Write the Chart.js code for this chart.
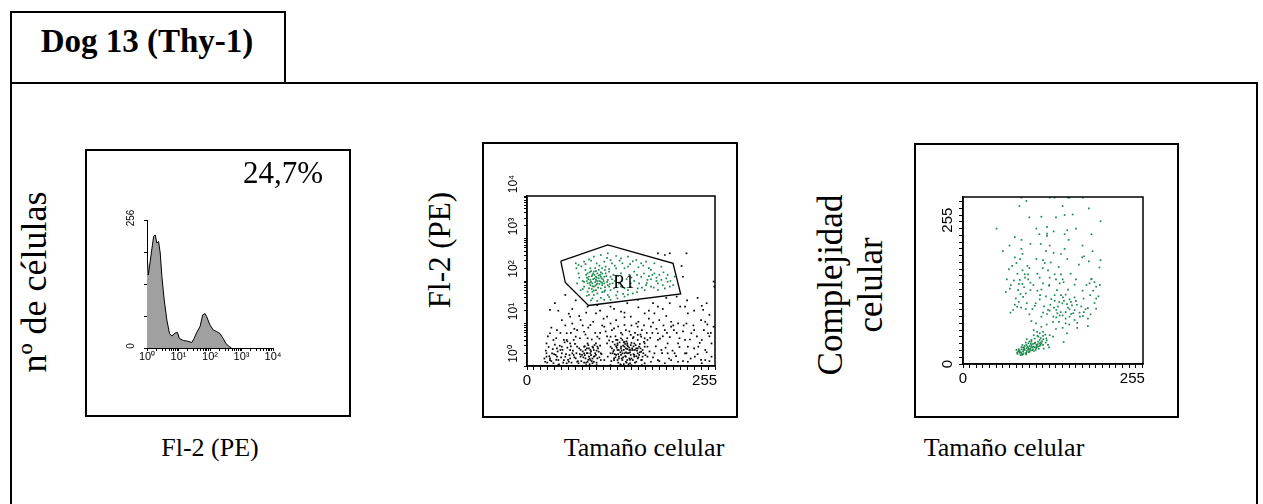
<!DOCTYPE html>
<html>
<head>
<meta charset="utf-8">
<title>Dog 13 (Thy-1)</title>
<script src="https://cdn.jsdelivr.net/npm/chart.js@4.4.1/dist/chart.umd.min.js"></script>
<style>
  body { margin:0; background:#fff; width:1263px; height:504px; overflow:hidden; position:relative; }
  .box { position:absolute; border:2px solid #000; box-sizing:border-box; background:#fff; }
  .box canvas { position:absolute; left:0; top:0; }
  .t { position:absolute; font-family:'Liberation Serif','Times New Roman',serif; line-height:1; white-space:nowrap; color:#000; }
  .h { transform:translateX(-50%); }
  .v { transform:translate(-50%,-50%) rotate(-90deg); }
</style>
</head>
<body>

<div class="box" style="left:10px;top:82px;width:1248px;height:440px"></div>
<div class="box" style="left:10px;top:11px;width:276px;height:73px"></div>
<div class="t h" style="left:147px;top:25px;font-size:33px;font-weight:bold">Dog 13 (Thy-1)</div>

<div class="box" style="left:85px;top:149px;width:266px;height:268px"><canvas id="histo" width="262" height="264"></canvas></div>
<div class="box" style="left:482px;top:142px;width:256px;height:276px"><canvas id="gate" width="252" height="272"></canvas></div>
<div class="box" style="left:914px;top:143px;width:265px;height:275px"><canvas id="ssc" width="261" height="271"></canvas></div>

<div class="t h" style="left:283px;top:157px;font-size:31px">24,7%</div>

<div class="t v" style="left:34px;top:282px;font-size:36px">nº de células</div>
<div class="t v" style="left:439px;top:250px;font-size:31px">Fl-2 (PE)</div>
<div class="t v" style="left:830px;top:285px;font-size:35px">Complejidad</div>
<div class="t v" style="left:870px;top:285px;font-size:35px">celular</div>

<div class="t h" style="left:210px;top:435px;font-size:26px">Fl-2 (PE)</div>
<div class="t h" style="left:644px;top:435px;font-size:26px">Tamaño celular</div>
<div class="t h" style="left:1004px;top:435px;font-size:26px">Tamaño celular</div>

<script>
// histogram, Fl-2 (PE) on log axis
const histFL2    = [1, 1.1, 1.62, 1.83, 2.06, 2.33, 2.63, 2.97, 3.52, 4.27, 5.18, 6.14, 7.83, 9.27, 10.7, 14.3,
                    18.3, 26.3, 31.2, 37.8, 48.2, 58.5, 69.3, 78.3, 99.8, 127, 162, 206, 263, 319, 406, 482];
const histCounts = [189, 146, 223, 226, 210, 213, 190, 143, 96, 56, 29, 24, 30, 31, 19, 15,
                    14, 11, 19, 31, 43, 66, 69, 63, 46, 36, 33, 29, 19, 9, 3, 0];
const histXTickValues = [1, 10, 100, 1000, 10000];
const histXTickLabels = ['10⁰', '10¹', '10²', '10³', '10⁴'];
const histYTickValues = [0, 256];
const histYTickLabels = ['0', '256'];

// R1 gate (tamaño, Fl-2)
const gateSize = [48.5, 116, 209.7, 220.7, 88.4, 55];
const gateFL2  = [295, 707, 261, 49.4, 26.5, 92];
const gateName = 'R1';
const gateNameAt = [139, 88];

const dotsInGate = [
  [70,261],[74,238],[82,285],[89,323],[96,374],[106,409],[116,448],[128,387],[135,341],[145,374],[157,312],[164,261],
  [171,285],[183,261],[193,217],[202,138],[212,126],[210,80],[198,67],[188,61],[178,74],[169,61],[159,67],[152,51],
  [140,43],[130,39],[120,36],[111,36],[101,34],[94,39],[77,61],[72,88],[74,151],[71,199],[145,217],[154,166],
  [164,126],[173,106],[183,151],[193,106],[202,96],[149,88],[161,88],[171,80],[135,151],[128,199],[120,312],[111,285],
  [137,261],[178,182],[188,88],[205,74],
  [84,182],[87,151],[89,126],[91,106],[94,88],[96,74],[99,61],[101,51],[103,116],[106,96],[108,80],[111,126],
  [113,151],[116,106],[118,74],[120,61],[101,151],[96,166],[91,199],[87,88],[89,67],[94,56],[99,106],[106,67],
  [111,56],[116,47],[103,182],[108,199],[113,217],[118,166],[120,126],[123,88],[125,67],[130,56],[132,88],[135,74],
  [140,67],[145,61],[149,74],[94,138],[99,126],[101,88],[106,126],[111,88],[116,80],[91,80],[96,47],[87,56],
  [82,74],[89,47],[95,110],[98,95],[100,120],[93,130],[97,140],[104,100],[102,70],[92,95],[88,110],[105,140],
  [110,100],[100,82],[96,60],[108,150],[112,72],[90,160],[86,120],[99,170],[107,115],[94,75],
  [75,120],[78,220],[80,100],[84,250],[92,300],[100,260],[104,230],[115,350],[122,260],[126,230],[133,300],[140,200],
  [148,250],[152,290],[160,210],[167,230],[175,200],[180,140],[186,120],[196,160],[200,115],[206,100],[195,80],[182,70],
  [175,130],[168,150],[158,140],[150,120],[143,110],[136,100],[128,120],[124,140],[118,190],[112,180],[106,160],[98,200],
  [92,170],[85,140],[82,95],[80,65],[86,45],[92,35],[106,40],[118,42],[128,46],[138,50],[145,48],[158,55],
  [165,70],[172,90],[186,100],[190,140],[178,110],[154,100],[147,140],[131,130],[122,110],[114,130],[109,110],[104,85],
  [98,78],[93,65],[90,90],[86,100],[97,115],[101,100],[95,150],[103,135],[108,90],[115,95],[119,85],[126,100],
  [112,60],[108,55]
];

const dotsOutGate = [
  [188,448],[198,409],[205,448],[229,448],[222,225],[224,126],[215,43],[268,97],[269,74],[251,26],[253,21],[227,25],
  [188,25],[181,30],[159,36],[144,30],[120,25],[101,27],[87,25],[55,47],[33,21],[62,14.5],[77,12.1],[99,17.3],
  [115,14.5],[135,19],[149,14.5],[169,17.3],[183,17.3],[207,11],[217,10.1],[231,17.3],[256,11],[268,8.4],[260,5.9],
  [251,4.1],[236,5.9],[227,4.1],[207,8.4],[198,7],[188,5.9],[178,8.4],[159,8.4],[140,9.2],[125,7.7],[111,8.4],
  [91,9.2],[82,6.4],[72,7],[57,5.9],[43,7],[33,5.9],[38,4.1],[28,3.4],[53,4.1],[67,4.1],[87,4.5],[101,4.9],
  [120,4.9],[135,4.5],[149,5.4],[164,4.9],[173,4.1],[188,4.1],[202,3.4],[217,3.4],[231,2.85],[246,2.85],[256,2.38],
  [265,3.4],[265,1.66],[256,1.38],[241,1.66],[227,1.99],[212,1.99],[202,1.99],[193,2.38],[183,1.99],[173,1.66],
  [169,2.85],[159,2.6],[144,3.1],[130,3.4],[115,3.4],[101,2.85],[87,3.4],[72,2.85],[62,2.38],[48,2.38],[36,1.99],
  [28,1.66],[26,1.26],[33,1.38],[43,1.66],[53,1.38],[62,1.51],[72,1.26],[82,1.99],[91,2.38],[96,1.66],[106,1.99],
  [111,1.38],[120,1.99],[125,1.51],[130,2.38],[135,2.85],[140,1.99],[144,1.38],[149,2.38],[154,1.66],[159,1.99],
  [164,1.38],[169,1.16],[178,1.26],[188,1.38],[198,1.16],[207,1.38],[217,1.26],[231,1.26],[251,1.16],[45,1.06],
  [57,1.16],[67,1.82],[77,2.38],
  [82,2.85],[84,2.38],[87,1.99],[89,1.66],[91,1.38],[94,2.85],[96,2.38],[99,1.82],[101,1.51],[87,1.26],[91,1.99],
  [84,1.51],[96,1.26],[103,2.17],[79,1.82],[89,2.6],[94,1.16],[82,1.2],[99,3.4],[106,1.38],
  [120,2.85],[123,1.99],[125,1.38],[128,4.1],[130,3.1],[132,2.38],[135,1.82],[137,1.38],[140,3.7],[142,2.6],
  [144,1.99],[147,1.51],[149,3.1],[152,2.38],[154,1.82],[157,1.26],[159,4.1],[161,2.85],[164,2.17],[166,1.66],
  [132,1.66],[137,1.99],[142,1.66],[147,2.38],[152,1.38],[140,2.85],[144,3.4],[135,2.6],[130,1.38],[125,2.38],
  [154,3.4],[159,1.51],[149,1.82],[137,4.1],[142,1.26],[157,2.6],[161,1.82],[169,3.4],[128,1.82],[116,1.66],
  [144,4.5],[152,4.5],[159,5.4],[169,4.5],[166,2.38],[173,2.85],[130,4.1],[123,3.7],[139,1.11],[148,1.16],
  [28,1.99],[33,1.51],[38,1.16],[41,1.82],[45,1.38],[50,1.99],[55,1.66],[60,1.26],[65,1.99],[70,1.51],[74,1.16],
  [77,1.66],[62,3.4],[50,2.85],[43,2.6],[70,4.9],[57,4.1],
  [120,10],[128,12],[140,14],[150,9],[160,11],[175,13],[190,12],[200,15],[210,9],[110,13],[95,11],[80,9],[65,10],
  [50,12],[45,20],[60,17],[75,15],[105,6],[115,5],[135,6],[155,6],[165,7],[180,6],[195,5],[215,6],[225,9],[240,7],
  [250,12],[262,5],[85,1.05],[100,1.05],[120,1.05],[135,1.05],[150,1.05],[165,1.05],
  [121,1.3],[124,2.2],[126,3.2],[127,1.6],[129,2.7],[131,1.2],[133,3.6],[134,2.1],[136,1.5],[138,3.0],[139,2.4],
  [141,1.7],[143,3.8],[143,1.2],[145,2.9],[146,2.0],[148,1.4],[150,3.5],[151,2.6],[153,1.9],[155,1.2],[156,3.1],
  [158,2.3],[160,1.6],[162,3.3],[163,2.6],[165,1.4],[167,2.0],[168,3.7],[170,1.8],[134,1.1],[146,1.1],[122,2.6],
  [128,2.9],[131,1.9],[136,2.3],[141,3.3],[147,2.7],[150,1.5],[153,2.9],[157,1.7],[162,2.1],[138,1.6],[142,2.1],
  [126,1.9],[132,1.5],[144,2.5],[148,2.1],[155,2.4],[139,3.6],
  [78,1.3],[80,2.2],[81,1.6],[83,2.9],[85,1.2],[86,2.0],[88,3.1],[90,1.5],[92,2.2],[93,1.3],[95,2.7],[97,1.7],
  [98,2.0],[100,1.2],[102,2.6],[104,1.6],[105,3.0],[107,1.9],[83,1.8],[86,2.6],[90,1.1],[92,1.8],[97,3.1],[100,2.3],
  [94,1.5],[88,1.4],
  [25,1.5],[27,2.3],[29,1.2],[31,2.8],[32,1.7],[35,1.3],[37,2.5],[39,1.9],[40,3.2],[42,1.4],[44,2.2],[46,1.1],
  [47,3.0],[49,1.6],[51,2.4],[52,1.2],[54,3.6],[56,1.9],[58,2.7],[59,1.4],[61,1.8],[63,2.9],[64,1.2],[66,2.3],
  [68,1.6],[69,3.3],[71,2.0],[73,1.3],[75,2.6],[76,1.9],
  [30,5],[35,8],[42,4.5],[48,6],[55,9],[58,3.8],[63,6],[68,7.5],[76,4.5],[84,5.5],[88,8],[93,4.2],[98,6],[104,4.4],
  [108,9],[113,6.5],[118,4],[122,7],[127,5],[131,8.5],[137,5.5],[142,7],[147,6.5],[153,4.8],[157,10],[163,5.5],
  [168,9],[172,6],[177,4.6],[181,10.5],[186,7.5],[191,4.4],[196,9],[201,6],[205,4.8],[211,7],[219,4.5],[224,6.5],
  [229,10],[234,4.2],[239,9],[244,5],[248,3.5],[254,7],[259,9.5],[264,6],
  [176,2.2],[181,1.6],[185,2.9],[190,1.3],[194,2.0],[199,2.7],[204,1.5],[209,2.3],[214,1.7],[219,2.8],[224,1.3],
  [229,2.0],[235,1.5],[240,2.6],[245,1.9],[250,1.4],[258,2.1],[262,1.3],
  [40,30],[65,22],[70,35],[85,18],[105,20],[125,22],[140,18],[160,24],[175,20],[195,22],[205,30],[220,25],[240,20],
  [262,16],[230,35],[245,40],[258,30],[200,40]
];
const gateYTickValues = [1, 10, 100, 1000, 10000];
const gateYTickLabels = ['10⁰', '10¹', '10²', '10³', '10⁴'];
const sizeTickValues = [0, 255];
const sizeTickLabels = ['0', '255'];

// tamaño vs complejidad, gated on R1
const dotsSSC = [
  [88,295],[95.5,289],[130.5,295],[138,295],[158,295],[160.5,295],[180.5,295],[189.5,276],[153,264],[118,261],
  [207,253],[50.5,240],[110.5,240],[126.5,243],[136.5,235],[126.5,231],[153,230],[157,237],[193.5,230],[78,225],
  [88,220],[126.5,227],[101.5,213],[117,213],[130.5,210],[159,220],[153,204],[88,204],[89.5,195],[136.5,197],
  [147.5,195],[78,189],[86,186],[110.5,186],[120.5,184],[157,186],[182,191],[179.5,189],[207,184],[189.5,182],
  [80.5,179],[74,174],[97,174],[123,179],[174.5,176],[205.5,171],[69,168],[89.5,166],[128,166],[93,159],[98,159],
  [138,159],[147.5,159],[115.5,153],[93.5,153],[130.5,153],[193.5,151],
  [101.5,144],[85.5,149],[76.5,148],[84,142],[89.5,142],[120.5,143],[129.5,139],[145.5,143],[151.5,145],[168,140.5],
  [193,150],[198,145],[200.5,137],[190.5,143],[70.5,133.5],[64.5,127.5],[83,131],[86.5,124],[94.5,125],[101.5,131],
  [118,132],[141.5,131],[158,132],[147.5,122],[154.5,123],[90.5,119],[79.5,116],[115.5,114.5],[138,112],[150.5,118],
  [160.5,114.5],[168,118],[181.5,116],[191.5,122],[200.5,116],[109.5,107.5],[108,103],[81.5,101.5],[87.5,100],
  [94.5,97.5],[104.5,97.5],[75.5,95.7],[71.5,91],[131.5,105],[137,100],[143,101.6],[149.5,107.5],[156.5,106],
  [162.5,110],[171.5,105],[130.5,94.5],[126.5,88.6],[140.5,95.7],[147,92],[154.5,92],[160.5,97],[163,88.6],
  [168,95.7],[175.5,91],[184.5,97],[188,99],[200.5,98],[120.5,91],[118,84],[140.5,82.7],[145.5,86],[154.5,80.4],
  [160.5,84],[168,78],[180.5,85],[188,80.4],[144.5,74.5],[135.5,74.5],[154.5,72],[172,73],[188,67],[103,76],
  [156.5,54.4],[151.5,39],
  [106.5,60],[111.5,57],[115.5,54.4],[120.5,57],[106.5,51],[113.5,48.5],[120.5,49.7],[125.5,45.5],[130.5,51],
  [135.5,48.5],[103,42.6],[108.5,38],[116.5,38],[124.5,38],[128,34],[129.5,29.6],[110.5,29.6],[121.5,27.3],
  [80.5,25],[83,22],[85.5,20],[88,19],[90.5,22],[93,25],[95.5,28],[98,29.6],[100.5,32],[103,33.8],[105.5,35.5],
  [108,36.7],[110.5,33.8],[113,30.8],[115.5,32],[95.5,33.8],[93,32],[90.5,29.6],[88,26],[84.5,23.7],[98,25],
  [101.5,27.3],[104.5,29.6],[108,29.6],[100.5,22],[95.5,20],[90.5,17.8],[86.5,16],[81.5,20],[103,39.6],[105.5,26],
  [109.5,25],[113,39.6],[115.5,42.6],[118,36.7],[120.5,33.8],[94.5,38],[89.5,33.8],[98.5,36.7],
  [82,18],[84,26],[87,21],[89,16],[91,25],[94,19],[96,23],[99,27],[101,25],[103,30],[106,31],[107,23],[110,28],
  [112,35],[114,27],[117,34],[119,40],[92,28],[97,31],[102,36],[85,23],[88,30],[104,24],[111,32],[115,36],[95,17],
  [99,21],[121,44],[117,46],[124,52],[108,45],[112,50],[126,42],[100,40],[96,44],
  [125,120],[133,115],[138,122],[145,110],[152,112],[158,100],[164,104],[170,112],[178,102],[182,92],[176,84],
  [166,90],[150,86],[142,90],[136,84],[128,96],[122,102],[116,122],[112,130],[106,140],[98,150],[92,136],[84,110],
  [78,105],[72,140],[66,150],[82,160],[100,170],[112,160],[120,170],[132,180],[144,172],[150,150],[162,160],
  [170,150],[180,130],[186,140],[196,130],[204,120],[206,140],[198,108],[192,88],[172,64],[160,70],[150,64],
  [140,62],[126,70],[118,66],[110,72],[100,88],[96,108],[130,140],[140,150],[125,200],[115,230],[140,260],
  [170,240],[180,210],[195,200],[100,260],[85,280],[60,200],[70,210],[150,280],[165,265]
];
const sscTickValues = [0, 255];
const sscTickLabels = ['0', '255'];

const GREEN = '#17874a';
const stepTicks = (max, step) => { const t = []; for (let v = 0; v <= max + 1e-9; v += step) t.push({ value: v }); return t; };
const logTicks = (hiExp) => {
  const t = [];
  for (let e = 0; e < hiExp; e++) for (let m = 1; m < 10; m++) t.push({ value: m * Math.pow(10, e) });
  t.push({ value: Math.pow(10, hiExp) });
  return t;
};
const axisGrid = (len) => ({ display: true, drawOnChartArea: false, drawTicks: true, tickLength: len, color: '#000', lineWidth: 1 });

// tick texts, frame and the gate name, placed through the chart's own scales
const axisText = {
  id: 'axisText',
  afterDraw(chart, args, o) {
    const ctx = chart.ctx, a = chart.chartArea;
    ctx.save();
    ctx.fillStyle = '#000';
    ctx.strokeStyle = '#000';
    if (o.frame) {
      ctx.lineWidth = o.frame;
      ctx.strokeRect(a.left, a.top, a.right - a.left, a.bottom - a.top);
    }
    if (o.x) {
      ctx.font = o.x.font; ctx.textAlign = 'center'; ctx.textBaseline = 'top';
      o.x.values.forEach((v, i) => ctx.fillText(o.x.labels[i], chart.scales.x.getPixelForValue(v), a.bottom + o.x.gap));
    }
    if (o.y) {
      ctx.font = o.y.font; ctx.textAlign = 'center'; ctx.textBaseline = 'middle';
      o.y.values.forEach((v, i) => {
        ctx.save();
        ctx.translate(a.left - o.y.gap, chart.scales.y.getPixelForValue(v) + o.y.shift);
        ctx.rotate(-Math.PI / 2);
        ctx.fillText(o.y.labels[i], 0, 0);
        ctx.restore();
      });
    }
    if (o.note) {
      ctx.font = o.note.font; ctx.textAlign = 'center'; ctx.textBaseline = 'middle';
      ctx.fillText(o.note.text, chart.scales.x.getPixelForValue(o.note.at[0]), chart.scales.y.getPixelForValue(o.note.at[1]));
    }
    ctx.restore();
  }
};

const base = { responsive: false, animation: false, devicePixelRatio: 1, events: [] };

new Chart(document.getElementById('histo'), {
  type: 'line',
  data: {
    datasets: [{
      data: histFL2.map((x, i) => ({ x: x, y: histCounts[i] })),
      borderColor: '#000', borderWidth: 1, backgroundColor: '#a0a0a0',
      fill: 'origin', pointRadius: 0, tension: 0
    }]
  },
  options: Object.assign({}, base, {
    layout: { padding: { left: 60, top: 69, right: 76, bottom: 67 } },
    plugins: {
      legend: { display: false }, tooltip: { enabled: false },
      axisText: {
        x: { values: histXTickValues, labels: histXTickLabels, gap: 3, font: '11px "Liberation Sans"' },
        y: { values: histYTickValues, labels: histYTickLabels, gap: 16, shift: -2, font: '10px "Liberation Sans"' }
      }
    },
    scales: {
      x: {
        type: 'logarithmic', min: 1, max: 10000,
        afterBuildTicks: s => { s.ticks = logTicks(4); },
        afterFit: s => { s.height = 0; },
        grid: axisGrid(3), border: { color: '#000', width: 1 }, ticks: { display: false, autoSkip: false }
      },
      y: {
        type: 'linear', min: 0, max: 256,
        afterBuildTicks: s => { s.ticks = stepTicks(256, 64); },
        afterFit: s => { s.width = 0; },
        grid: axisGrid(3), border: { color: '#000', width: 1 }, ticks: { display: false }
      }
    }
  }),
  plugins: [axisText]
});

new Chart(document.getElementById('gate'), {
  type: 'scatter',
  data: {
    datasets: [
      {
        data: gateSize.concat(gateSize[0]).map((x, i) => ({ x: x, y: gateFL2[i % gateFL2.length] })),
        showLine: true, borderColor: '#000', borderWidth: 1.3, pointRadius: 0, fill: false
      },
      {
        data: dotsInGate.map(p => ({ x: p[0], y: p[1] })),
        pointStyle: 'rect', pointRadius: 1.2, pointBorderWidth: 0, backgroundColor: GREEN
      },
      {
        data: dotsOutGate.map(p => ({ x: p[0], y: p[1] })),
        pointStyle: 'rect', pointRadius: 1.2, pointBorderWidth: 0, backgroundColor: '#000'
      }
    ]
  },
  options: Object.assign({}, base, {
    layout: { padding: { left: 43, top: 52, right: 21, bottom: 50 } },
    plugins: {
      legend: { display: false }, tooltip: { enabled: false },
      axisText: {
        frame: 1.5,
        x: { values: sizeTickValues, labels: sizeTickLabels, gap: 7, font: '15px "Liberation Sans"' },
        y: { values: gateYTickValues, labels: gateYTickLabels, gap: 13, shift: -12, font: '12px "Liberation Sans"' },
        note: { text: gateName, at: gateNameAt, font: '18px "Liberation Serif"' }
      }
    },
    scales: {
      x: {
        type: 'linear', min: 0, max: 270,
        afterBuildTicks: s => { s.ticks = stepTicks(270, 10); },
        afterFit: s => { s.height = 0; },
        grid: axisGrid(4), border: { color: '#000', width: 1.5 }, ticks: { display: false }
      },
      y: {
        type: 'logarithmic', min: 1, max: 10000,
        afterBuildTicks: s => { s.ticks = logTicks(4); },
        afterFit: s => { s.width = 0; },
        grid: axisGrid(3), border: { color: '#000', width: 1.5 }, ticks: { display: false, autoSkip: false }
      }
    }
  }),
  plugins: [axisText]
});

new Chart(document.getElementById('ssc'), {
  type: 'scatter',
  data: {
    datasets: [{
      data: dotsSSC.map(p => ({ x: p[0], y: p[1] })),
      pointStyle: 'rect', pointRadius: 1.2, pointBorderWidth: 0, backgroundColor: GREEN
    }]
  },
  options: Object.assign({}, base, {
    layout: { padding: { left: 47, top: 52, right: 34, bottom: 52 } },
    plugins: {
      legend: { display: false }, tooltip: { enabled: false },
      axisText: {
        frame: 1.5,
        x: { values: sizeTickValues, labels: sizeTickLabels, gap: 7, font: '15px "Liberation Sans"' },
        y: { values: sscTickValues, labels: sscTickLabels, gap: 15, shift: 0, font: '15px "Liberation Sans"' }
      }
    },
    scales: {
      x: {
        type: 'linear', min: 0, max: 271,
        afterBuildTicks: s => { s.ticks = stepTicks(270, 10); },
        afterFit: s => { s.height = 0; },
        grid: axisGrid(4), border: { color: '#000', width: 1.5 }, ticks: { display: false }
      },
      y: {
        type: 'linear', min: 0, max: 296,
        afterBuildTicks: s => { s.ticks = stepTicks(288, 12); },
        afterFit: s => { s.width = 0; },
        grid: axisGrid(4), border: { color: '#000', width: 1.5 }, ticks: { display: false }
      }
    }
  }),
  plugins: [axisText]
});
</script>
</body>
</html>
